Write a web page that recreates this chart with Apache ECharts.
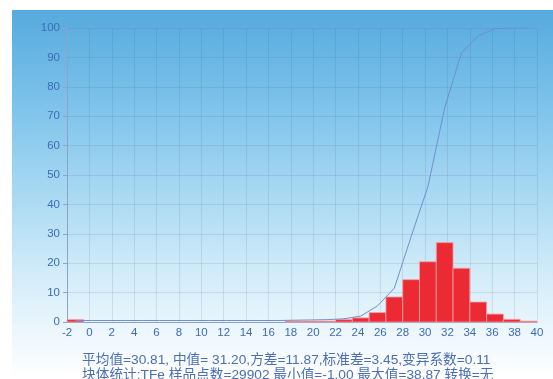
<!DOCTYPE html>
<html>
<head>
<meta charset="utf-8">
<script src="https://cdn.jsdelivr.net/npm/echarts@6/dist/echarts.min.js"></script>
<style>
  html, body { margin: 0; padding: 0; background: #ffffff; }
  #wrap { position: relative; width: 553px; height: 379px; overflow: hidden; }
  #bg {
    position: absolute; left: 12px; top: 10px; right: 0; bottom: 0;
    background: linear-gradient(to bottom, #56aadd 0%, #7cc2ea 25%, #a9d9f2 50%, #d3ecf9 72%, #eef7fd 88%, #ffffff 100%);
  }
  #chart { position: absolute; left: 0; top: 0; width: 553px; height: 379px; }
</style>
</head>
<body>
<div id="wrap"><div id="bg"></div><div id="chart"></div></div>
<script>
  // histogramme TFe : classes de 1,5 à partir de -2 (seules les classes non vides)
  const binLo  = [-2, 17.5, 19, 20.5, 22, 23.5, 25, 26.5, 28, 29.5, 31, 32.5, 34, 35.5, 37, 38.5];
  const binPct = [0.8, 0.3, 0.3, 0.3, 0.8, 1.4, 3.2, 8.5, 14.4, 20.5, 27.0, 18.3, 6.8, 2.7, 0.9, 0.3];
  const binW = 1.5;

  // courbe cumulée, lue au centre de chaque classe
  const cumX = [-1.25, 0.25, 1.75, 3.25, 4.75, 6.25, 7.75, 9.25, 10.75, 12.25, 13.75, 15.25, 16.75,
                18.25, 19.75, 21.25, 22.75, 24.25, 25.75, 27.25, 28.75, 30.25, 31.75, 33.25,
                34.75, 36.25, 37.75, 39.25];
  const cumY = [0.5, 0.5, 0.5, 0.5, 0.5, 0.5, 0.5, 0.5, 0.5, 0.5, 0.5, 0.5, 0.5,
                0.6, 0.7, 0.8, 1.1, 2.0, 5.5, 11.5, 29, 46, 72.8, 91.6,
                97.3, 99.8, 100, 100];

  const statLines = [
    "平均值=30.81, 中值= 31.20,方差=11.87,标准差=3.45,变异系数=0.11",
    "块体统计:TFe 样品点数=29902 最小值=-1.00 最大值=38.87 转换=无",
  ];

  const LABEL = "#3d6cb6";
  const FONT = "'Liberation Sans', Arial, 'Noto Sans CJK SC', sans-serif";
  const GRID = "rgba(70,90,130,0.14)";

  const chart = echarts.init(document.getElementById("chart"), null, { renderer: "canvas" });

  chart.setOption({
    backgroundColor: "transparent",
    animation: false,
    title: {
      text: statLines.join("\n"),
      left: 82, top: 353,
      padding: 0,
      textStyle: { fontSize: 13.7, lineHeight: 15, fontWeight: "normal", color: "#4a6fb5", fontFamily: FONT },
    },
    grid: { left: 67, right: 16, top: 28, bottom: 57 },
    xAxis: {
      type: "value", min: -2, max: 40, interval: 2,
      axisLine: { show: true, onZero: false, lineStyle: { color: "#8fa2c4", width: 1 } },
      axisTick: { show: false },
      axisLabel: { color: LABEL, fontSize: 11.5, margin: 5, fontFamily: FONT },
      splitLine: { show: true, lineStyle: { color: GRID, width: 1 } },
    },
    yAxis: {
      type: "value", min: 0, max: 100, interval: 10,
      axisLine: { show: true, onZero: false, lineStyle: { color: "#8fa2c4", width: 1 } },
      axisTick: { show: true, length: 4, lineStyle: { color: "#8fa2c4" } },
      axisLabel: { color: LABEL, fontSize: 11.5, margin: 7, fontFamily: FONT },
      splitLine: { show: true, lineStyle: { color: GRID, width: 1 } },
    },
    series: [
      {
        type: "custom",
        data: binLo.map((lo, i) => [lo, lo + binW, binPct[i]]),
        encode: { x: [0, 1], y: 2 },
        renderItem: function (params, api) {
          const p0 = api.coord([api.value(0), api.value(2)]);
          const p1 = api.coord([api.value(1), 0]);
          return {
            type: "rect",
            shape: { x: p0[0], y: p0[1], width: p1[0] - p0[0], height: p1[1] - p0[1] },
            style: { fill: "#ec2a33", stroke: "#f3a3a6", lineWidth: 0.8 },
          };
        },
        z: 2,
      },
      {
        type: "line",
        data: cumX.map((x, i) => [x, cumY[i]]),
        showSymbol: false,
        lineStyle: { color: "#6f8fcf", width: 1 },
        z: 3,
      },
    ],
  });
</script>
</body>
</html>
